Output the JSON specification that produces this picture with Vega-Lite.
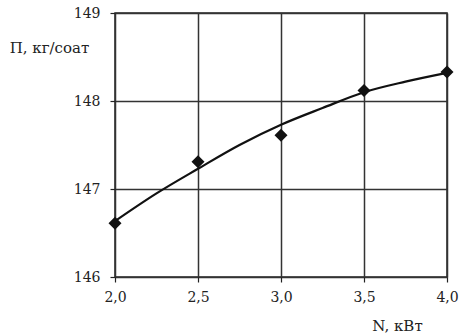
{
  "$schema": "https://vega.github.io/schema/vega-lite/v6.json",
  "autosize": "none",
  "width": 332,
  "height": 264,
  "padding": {"left": 115, "top": 13, "right": 14, "bottom": 57},
  "background": "white",
  "config": {
    "font": "DejaVu Serif",
    "view": {"stroke": "#222", "strokeWidth": 1.5},
    "axis": {
      "labelFont": "DejaVu Serif",
      "titleFont": "DejaVu Serif",
      "labelFontSize": 14,
      "titleFontSize": 15,
      "labelColor": "#222",
      "titleColor": "#222",
      "titleFontWeight": "normal",
      "gridColor": "#333",
      "gridWidth": 1.5,
      "gridOpacity": 1,
      "tickColor": "#222",
      "tickWidth": 1.2,
      "tickSize": 5,
      "domain": false
    }
  },
  "datasets": {
    "pts": [
      {"N": 2.0, "P": 146.61},
      {"N": 2.5, "P": 147.31},
      {"N": 3.0, "P": 147.61},
      {"N": 3.5, "P": 148.12},
      {"N": 4.0, "P": 148.33}
    ],
    "curve": [
      {"N": 2.0, "P": 146.635},
      {"N": 2.25, "P": 146.95},
      {"N": 2.5, "P": 147.23},
      {"N": 2.75, "P": 147.5},
      {"N": 3.0, "P": 147.73},
      {"N": 3.25, "P": 147.92},
      {"N": 3.5, "P": 148.1},
      {"N": 3.75, "P": 148.22},
      {"N": 4.0, "P": 148.32}
    ]
  },
  "layer": [
    {
      "data": {"name": "curve"},
      "mark": {"type": "line", "color": "#111", "strokeWidth": 2.2, "interpolate": "monotone"},
      "encoding": {
        "x": {
          "field": "N", "type": "quantitative",
          "scale": {"domain": [2, 4], "nice": false, "zero": false},
          "axis": {
            "values": [2, 2.5, 3, 3.5, 4],
            "labelExpr": "replace(format(datum.value, '.1f'), '.', ',')",
            "labelPadding": 8,
            "labelFlush": false,
            "title": "N, кВт",
            "titleAngle": 0,
            "titleX": 282,
            "titleY": 48,
            "titleAlign": "center",
            "titleBaseline": "middle"
          }
        },
        "y": {
          "field": "P", "type": "quantitative",
          "scale": {"domain": [146, 149], "nice": false, "zero": false},
          "axis": {
            "values": [146, 147, 148, 149],
            "format": "d",
            "labelPadding": 10,
            "labelFlush": false,
            "title": "П, кг/соат",
            "titleAngle": 0,
            "titleX": -66,
            "titleY": 34,
            "titleAlign": "center",
            "titleBaseline": "middle"
          }
        }
      }
    },
    {
      "data": {"name": "pts"},
      "mark": {"type": "point", "shape": "diamond", "filled": true, "color": "#111", "size": 170, "opacity": 1},
      "encoding": {
        "x": {"field": "N", "type": "quantitative"},
        "y": {"field": "P", "type": "quantitative"}
      }
    }
  ]
}
